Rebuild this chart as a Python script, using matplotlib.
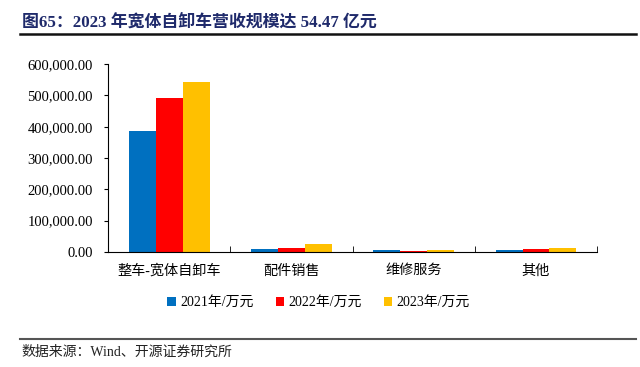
import matplotlib

matplotlib.use("Agg")

import matplotlib.pyplot as plt
import numpy as np
from matplotlib.lines import Line2D
from matplotlib.ticker import FuncFormatter

CATEGORIES = ["整车-宽体自卸车", "配件销售", "维修服务", "其他"]
SERIES_LABELS = ["2021年/万元", "2022年/万元", "2023年/万元"]
VALUES_2021 = [387000, 9500, 5000, 5000]
VALUES_2022 = [491000, 13000, 2000, 9500]
VALUES_2023 = [544700, 25000, 4500, 13500]
COLORS = ["#0070C0", "#FF0000", "#FFC000"]

TITLE = "图65：2023 年宽体自卸车营收规模达 54.47 亿元"
SOURCE = "数据来源：Wind、开源证券研究所"

FONTS = ["Liberation Serif", "Noto Sans CJK SC"]
plt.rcParams["font.family"] = FONTS

fig = plt.figure(figsize=(6.4, 3.67), dpi=100)
ax = fig.add_axes([0.169, 0.314, 0.764, 0.511])

x = np.arange(len(CATEGORIES))
width = 0.22
for i, (vals, label, color) in enumerate(
    zip([VALUES_2021, VALUES_2022, VALUES_2023], SERIES_LABELS, COLORS)
):
    ax.bar(x + (i - 1) * width, vals, width=width, color=color, label=label)

ax.set_xlim(-0.5, len(CATEGORIES) - 0.5)
ax.set_ylim(0, 600000)
ax.set_yticks(np.arange(0, 600001, 100000))
ax.yaxis.set_major_formatter(FuncFormatter(lambda v, _: f"{v:,.2f}"))
ax.tick_params(axis="y", direction="out", length=3, labelsize=10.5, pad=8)

ax.set_xticks(x)
ax.set_xticklabels(CATEGORIES, fontsize=10.2)
ax.tick_params(axis="x", length=0, pad=9)
ax.set_xticks(np.arange(0.5, len(CATEGORIES), 1), minor=True)
ax.tick_params(axis="x", which="minor", direction="in", length=4)

for side in ["top", "right"]:
    ax.spines[side].set_visible(False)
ax.spines["left"].set_color("black")
ax.spines["bottom"].set_color("black")

ax.legend(
    loc="upper center",
    bbox_to_anchor=(0.43, -0.17),
    ncol=3,
    frameon=False,
    fontsize=10,
    handlelength=0.6,
    handleheight=0.6,
    handletextpad=0.3,
    columnspacing=1.6,
)

fig.text(0.034, 0.94, TITLE, fontsize=12.2, fontweight="bold", color="#1F2A6B", va="center")
fig.add_artist(Line2D([0.031, 0.994], [0.906, 0.906], color="#111111", linewidth=1.8))
fig.add_artist(Line2D([0.031, 0.994], [0.076, 0.076], color="#555555", linewidth=1.5))
fig.text(0.034, 0.04, SOURCE, fontsize=10, color="#222222", va="center")

fig.savefig("out.png", dpi=100)
